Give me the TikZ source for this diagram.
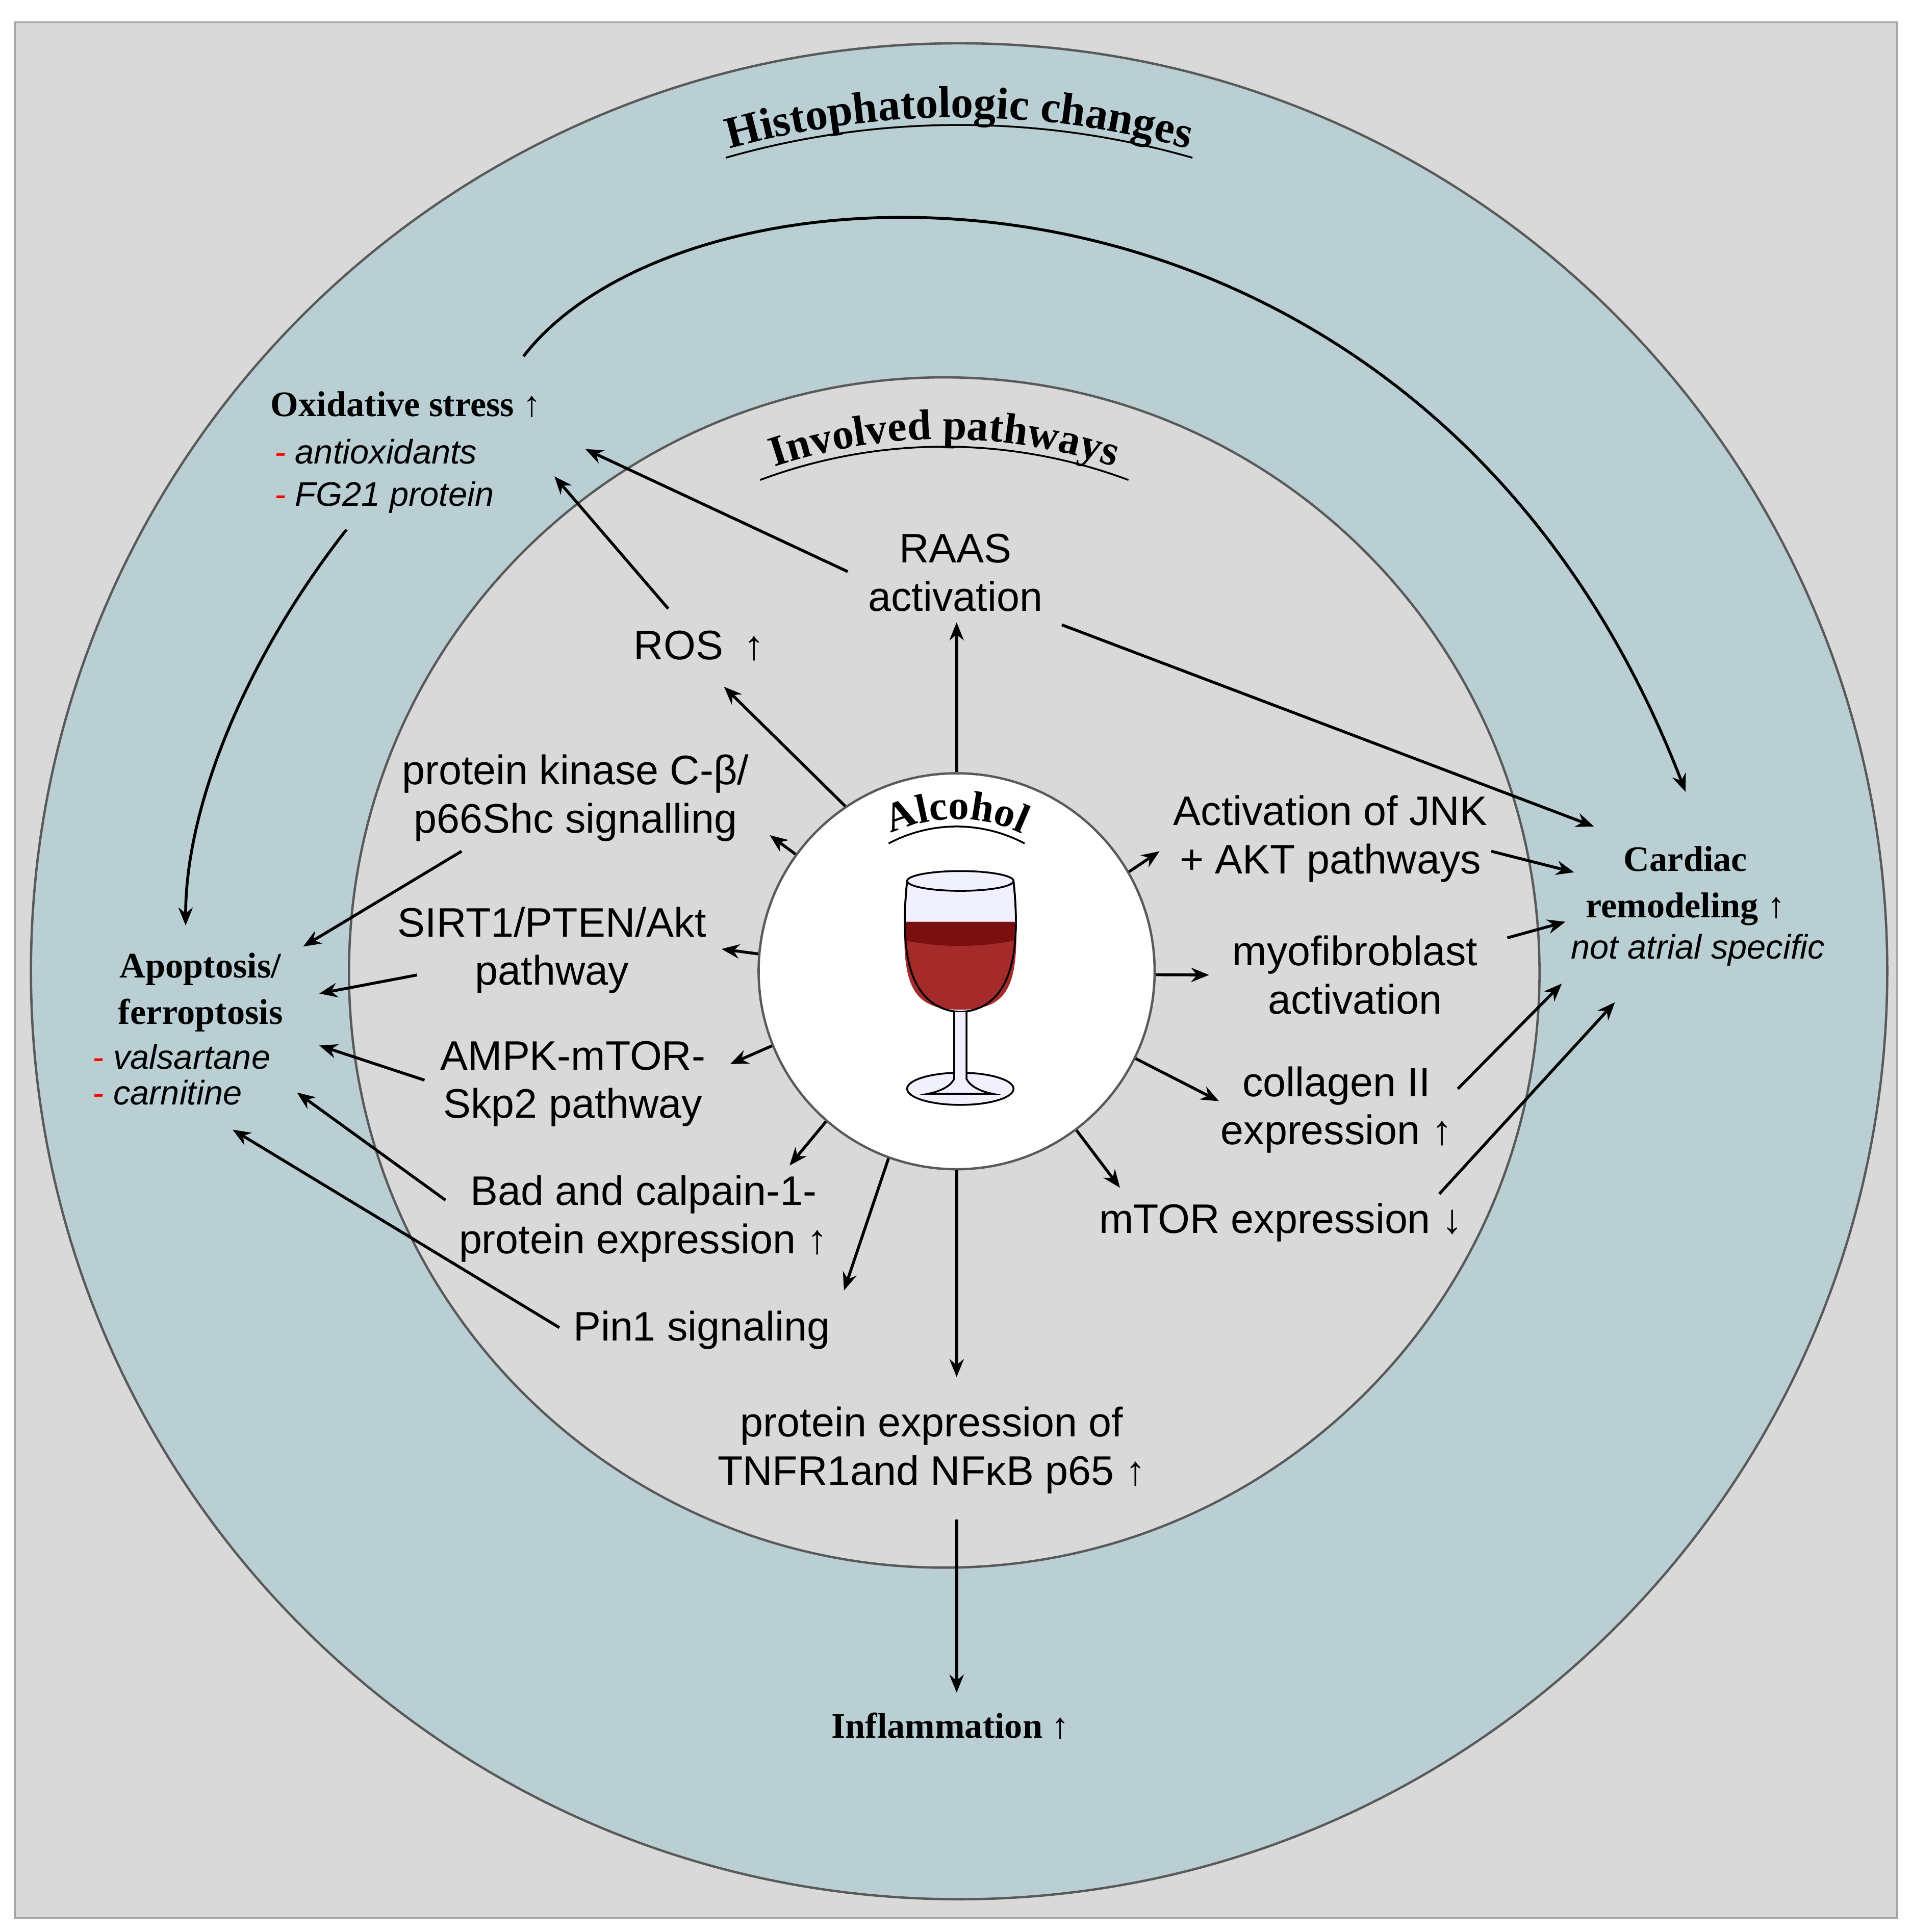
\documentclass[tikz,border=0pt]{standalone}
\usepackage{fontspec}
\setmainfont{Liberation Sans}
\newfontfamily\lser{Liberation Serif}
\usetikzlibrary{arrows.meta,decorations.text}
\definecolor{bgray}{HTML}{D9D9D9}
\definecolor{ring}{HTML}{B9CFD4}
\definecolor{wine}{HTML}{A52A2A}
\definecolor{winedk}{HTML}{7A0F0F}
\begin{document}
\begin{tikzpicture}[x=0.024266cm,y=0.024266cm,
  arr/.style={line width=1.6pt,-{Stealth[length=10pt,width=8pt]}},
  pw/.style={align=center,font=\fontsize{23}{27}\selectfont,inner sep=1pt},
  bs/.style={align=center,font=\lser\bfseries\fontsize{20}{26}\selectfont,inner sep=1pt},
  it/.style={font=\itshape\fontsize{19}{22}\selectfont,inner sep=1pt}]
\useasboundingbox (0,0) rectangle (1545,-1561.5);
\fill[white] (0,0) rectangle (1545,-1561.5);
\draw[gray!70,line width=1pt,fill=bgray] (12,-18) rectangle (1533,-1550);
\draw[line width=1.3pt,draw=black!65,fill=ring] (775,-785) circle (750);
\draw[line width=1.3pt,draw=black!65,fill=bgray] (763,-786) circle (481);
\node[circle,draw=black!65,line width=1.3pt,fill=white,minimum size=320*0.024266cm,inner sep=0] (alc) at (773,-785) {};
% titles
\path[decorate,decoration={text along path,text align=center,
  text={|\lser\bfseries\fontsize{25}{25}\selectfont|Histophatologic changes}}]
  (775,-785) ++(107:690) arc[start angle=107,end angle=73,radius=690];
\draw[line width=1pt] (775,-785) ++(106:684) arc[start angle=106,end angle=74,radius=684];
\path[decorate,decoration={text along path,text align=center,
  text={|\lser\bfseries\fontsize{24}{24}\selectfont|Involved pathways}}]
  (763,-786) ++(112:431) arc[start angle=112,end angle=68,radius=431];
\draw[line width=1pt] (763,-786) ++(110.5:425) arc[start angle=110.5,end angle=69.5,radius=425];
\path[decorate,decoration={text along path,text align=center,
  text={|\lser\bfseries\fontsize{23}{23}\selectfont|Alcohol}}]
  (773,-785) ++(125:123) arc[start angle=125,end angle=55,radius=123];
\draw[line width=1pt] (773,-785) ++(118:117) arc[start angle=118,end angle=62,radius=117];
% wine glass
\draw[line width=1pt,fill=blue!6] (733,-712) .. controls (728,-760) and (730,-815) .. (776,-818) .. controls (822,-815) and (824,-760) .. (819,-712);
\fill[wine] (731,-745) .. controls (729,-800) and (740,-816) .. (776,-816) .. controls (812,-816) and (823,-800) .. (821,-745) -- cycle;
\fill[winedk] (731,-745) -- (821,-745) -- (821,-760) .. controls (790,-766) and (760,-766) .. (731,-760) -- cycle;
\draw[line width=1pt,fill=blue!6] (776,-712) ellipse (43 and 8);
\draw[line width=1pt] (733,-712) .. controls (728,-760) and (730,-815) .. (776,-818) .. controls (822,-815) and (824,-760) .. (819,-712);
\draw[line width=1pt,fill=blue!6] (776,-880) ellipse (43 and 13);
\draw[line width=1pt,fill=blue!6] (771,-818) -- (771,-872) .. controls (768,-878) and (760,-882) .. (750,-884) -- (802,-884) .. controls (792,-882) and (784,-878) .. (781,-872) -- (781,-818);
% pathway nodes
\node[pw] (raas) at (772,-463) {RAAS\\activation};
\node[pw] (ros) at (565,-522) {ROS\enspace↑};
\node[pw] (pkc) at (465,-645) {protein kinase C-β/\\p66Shc signalling};
\node[pw] (sirt) at (446,-768) {SIRT1/PTEN/Akt\\pathway};
\node[pw] (ampk) at (463,-876) {AMPK-mTOR-\\Skp2 pathway};
\node[pw] (bad) at (520,-985) {Bad and calpain-1-\\protein expression ↑};
\node[pw] (pin) at (567,-1075) {Pin1 signaling};
\node[pw] (tnf) at (753,-1172) {protein expression of\\TNFR1and NFκB p65 ↑};
\node[pw] (mtor) at (1035,-988) {mTOR expression ↓};
\node[pw] (col) at (1080,-897) {collagen II\\expression ↑};
\node[pw] (myo) at (1095,-788) {myofibroblast\\activation};
\node[pw] (jnk) at (1075,-678) {Activation of JNK\\+ AKT pathways};
% outer nodes
\node[bs] (ox) at (328,-327) {Oxidative stress ↑};
\node[it,anchor=west] (ox1) at (220,-365) {\textcolor{red}{-}\ antioxidants};
\node[it,anchor=west] (ox2) at (220,-402) {\textcolor{red}{-}\ FG21 protein};
\node[bs] (apo) at (162,-802) {Apoptosis/\\ferroptosis};
\node[it,anchor=west] (ap1) at (73,-854) {\textcolor{red}{-}\ valsartane};
\node[it,anchor=west] (ap2) at (73,-883) {\textcolor{red}{-}\ carnitine};
\node[bs] (card) at (1362,-716) {Cardiac\\remodeling ↑};
\node[it] (card1) at (1372,-768) {not atrial specific};
\node[bs] (inf) at (768,-1395) {Inflammation ↑};
% arrows from alcohol
\draw[arr] (alc.90) -- (773,-503);
\draw[arr] (alc.124) -- (585,-555);
\draw[arr] (alc.144) -- (622,-675);
\draw[arr] (alc.175) -- (583,-767);
\draw[arr] (alc.202) -- (590,-860);
\draw[arr] (alc.229.5) -- (638,-942);
\draw[arr] (alc.250) -- (682,-1043);
\draw[arr] (alc.270) -- (773,-1113);
\draw[arr] (alc.307) -- (905,-960);
\draw[arr] (alc.334) -- (985,-890);
\draw[arr] (alc.-1) -- (977,-788);
\draw[arr] (alc.30) -- (937,-688);
% second level
\draw[arr] (685,-462) -- (473,-363);
\draw[arr] (540,-492) -- (448,-385);
\draw[arr] (858,-505) -- (1288,-668);
\draw[arr] (1205,-688) -- (1272,-705);
\draw[arr] (1218,-758) -- (1265,-745);
\draw[arr] (1178,-880) -- (1262,-795);
\draw[arr] (1163,-965) -- (1305,-810);
\draw[arr] (373,-688) -- (245,-765);
\draw[arr] (337,-788) -- (258,-803);
\draw[arr] (343,-873) -- (258,-845);
\draw[arr] (360,-970) -- (240,-883);
\draw[arr] (452,-1073) -- (188,-913);
\draw[arr] (773,-1228) -- (773,-1368);
\draw[arr] (423,-288) .. controls (560,-110) and (1150,-90) .. (1362,-640);
\draw[arr] (280,-428) .. controls (200,-530) and (150,-650) .. (150,-748);
\end{tikzpicture}
\end{document}
